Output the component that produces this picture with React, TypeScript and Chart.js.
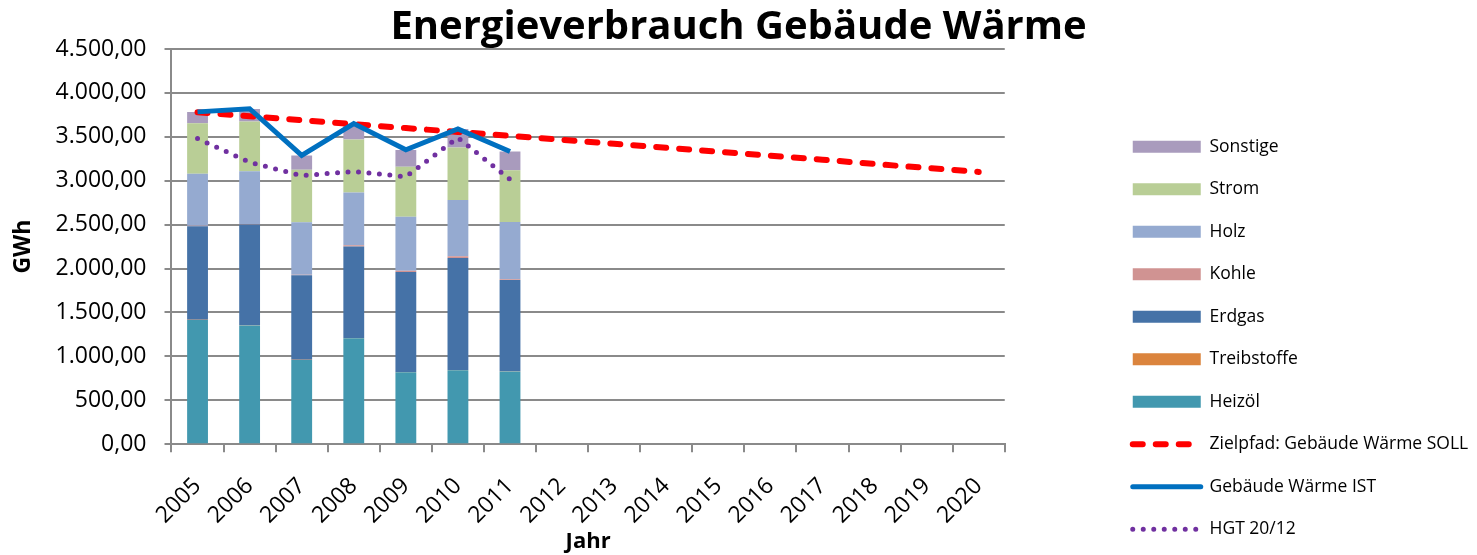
import React, { useEffect, useRef } from 'react';
import { Chart, registerables } from 'chart.js';

Chart.register(...registerables);

const years = ['2005', '2006', '2007', '2008', '2009', '2010', '2011', '2012', '2013', '2014', '2015', '2016', '2017', '2018', '2019', '2020'];

const heizoel = [1415, 1352, 959, 1207, 818, 841, 826];
const treibstoffe = [3, 3, 3, 3, 3, 3, 3];
const erdgas = [1062, 1145, 960, 1040, 1140, 1275, 1040];
const kohle = [8, 8, 8, 15, 15, 20, 10];
const holz = [590, 600, 598, 600, 615, 640, 650];
const strom = [575, 565, 598, 605, 568, 600, 590];
const sonstige = [130, 145, 162, 180, 190, 210, 215];

const sollValues = [3780, 3735, 3690, 3645, 3600, 3555, 3510, 3465, 3420, 3375, 3330, 3285, 3240, 3190, 3145, 3100];
const istValues = [3784, 3820, 3288, 3650, 3352, 3590, 3332];
const hgtValues = [3480, 3210, 3057, 3106, 3045, 3490, 3014];

const yMin = 0;
const yMax = 4500;
const yStep = 500;

const FONT = "'Open Sans', sans-serif";
const GRID = '#8a8a8a';

function fmtDe(v: number): string {
  const s = Number(v).toFixed(2);
  const [i, d] = s.split('.');
  const withDots = i.replace(/\B(?=(\d{3})+(?!\d))/g, '.');
  return withDots + ',' + d;
}

const barSeries = [
  { label: 'Heizöl', data: heizoel, color: '#4298AF' },
  { label: 'Treibstoffe', data: treibstoffe, color: '#DB843D' },
  { label: 'Erdgas', data: erdgas, color: '#4572A7' },
  { label: 'Kohle', data: kohle, color: '#D09392' },
  { label: 'Holz', data: holz, color: '#95AAD0' },
  { label: 'Strom', data: strom, color: '#B9CE96' },
  { label: 'Sonstige', data: sonstige, color: '#A99BBD' },
];

export default function App() {
  const ref = useRef<HTMLCanvasElement | null>(null);

  useEffect(() => {
    if (!ref.current) return;
    const lineSets: any[] = [
      {
        type: 'line',
        label: 'HGT 20/12',
        data: hgtValues,
        borderColor: '#7030A0',
        backgroundColor: '#7030A0',
        borderWidth: 5,
        borderDash: [0, 10.5],
        borderCapStyle: 'round',
        pointRadius: 0,
        tension: 0,
        fill: false,
        order: 0,
      },
      {
        type: 'line',
        label: 'Gebäude Wärme IST',
        data: istValues,
        borderColor: '#0070C0',
        backgroundColor: '#0070C0',
        borderWidth: 5,
        borderJoinStyle: 'miter',
        pointRadius: 0,
        tension: 0,
        fill: false,
        order: 0,
      },
      {
        type: 'line',
        label: 'Zielpfad: Gebäude Wärme SOLL',
        data: sollValues,
        borderColor: '#FF0000',
        backgroundColor: '#FF0000',
        borderWidth: 6,
        borderDash: [10, 13],
        borderCapStyle: 'round',
        pointRadius: 0,
        tension: 0,
        fill: false,
        order: 0,
      },
    ];
    const bars: any[] = barSeries.map((s) => ({
      type: 'bar',
      label: s.label,
      data: s.data,
      backgroundColor: s.color,
      borderWidth: 0,
      stack: 'energie',
      categoryPercentage: 1,
      barPercentage: 0.4,
      order: 1,
    }));

    const legendOrder = ['Sonstige', 'Strom', 'Holz', 'Kohle', 'Erdgas', 'Treibstoffe', 'Heizöl', 'Zielpfad: Gebäude Wärme SOLL', 'Gebäude Wärme IST', 'HGT 20/12'];

    const chart = new Chart(ref.current, {
      type: 'bar',
      data: { labels: years, datasets: [...lineSets, ...bars] },
      options: {
        responsive: false,
        animation: false,
        layout: { padding: { left: 0, right: 0, top: 0, bottom: -8 } },
        plugins: {
          tooltip: { enabled: false },
          title: {
            display: true,
            text: 'Energieverbrauch Gebäude Wärme',
            color: '#000',
            font: { family: FONT, size: 40, weight: 'bold', lineHeight: 1.05 },
            padding: { top: 7, bottom: 0 },
          },
          legend: {
            position: 'right',
            align: 'end',
            labels: {
              usePointStyle: true,
              pointStyleWidth: 68,
              boxWidth: 68,
              boxHeight: 12,
              padding: 25,
              color: '#000',
              font: { family: FONT, size: 17.5 },
              generateLabels: (c: any) => {
                const ds = c.data.datasets;
                return legendOrder.map((name) => {
                  const i = ds.findIndex((d: any) => d.label === name);
                  const d = ds[i];
                  const isLine = d.type === 'line';
                  return {
                    text: name,
                    datasetIndex: i,
                    fillStyle: isLine ? 'rgba(0,0,0,0)' : d.backgroundColor,
                    strokeStyle: isLine ? d.borderColor : d.backgroundColor,
                    lineWidth: isLine ? d.borderWidth : 0,
                    lineDash: isLine ? d.borderDash || [] : [],
                    lineCap: isLine ? (d.borderCapStyle || 'round') : 'butt',
                    pointStyle: isLine ? 'line' : 'rect',
                    hidden: false,
                  };
                });
              },
            },
          },
        },
        scales: {
          x: {
            offset: true,
            grid: {
              display: true,
              offset: true,
              drawOnChartArea: false,
              drawTicks: true,
              tickLength: 8,
              color: GRID,
              lineWidth: 2,
            },
            border: { display: true, color: GRID, width: 2 },
            ticks: {
              autoSkip: false,
              maxRotation: 45,
              minRotation: 45,
              padding: 22,
              color: '#000',
              font: { family: FONT, size: 23, lineHeight: 1 },
            },
            title: {
              display: true,
              text: 'Jahr',
              color: '#000',
              font: { family: FONT, size: 22, weight: 'bold' },
              padding: { top: -21, bottom: 8 },
            },
          },
          y: {
            min: yMin,
            max: yMax,
            ticks: {
              stepSize: yStep,
              padding: 18,
              color: '#000',
              font: { family: FONT, size: 23 },
              callback: (v: any) => fmtDe(Number(v)),
            },
            grid: { color: GRID, lineWidth: 2, tickLength: 7 },
            border: { display: true, color: GRID, width: 2 },
            title: {
              display: true,
              text: 'GWh',
              color: '#000',
              font: { family: FONT, size: 23, weight: 'bold' },
              padding: { top: 10, bottom: 0 },
            },
          },
          yRight: {
            type: 'linear',
            position: 'right',
            display: false,
            afterFit: (s: any) => {
              s.width = 103;
            },
          },
        },
      } as any,
    });
    return () => chart.destroy();
  }, []);

  return (
    <div style={{ position: 'absolute', left: 0, top: 0, width: 1477, height: 555, background: '#fff' }}>
      <canvas ref={ref} width={1477} height={555} style={{ display: 'block' }} />
    </div>
  );
}
